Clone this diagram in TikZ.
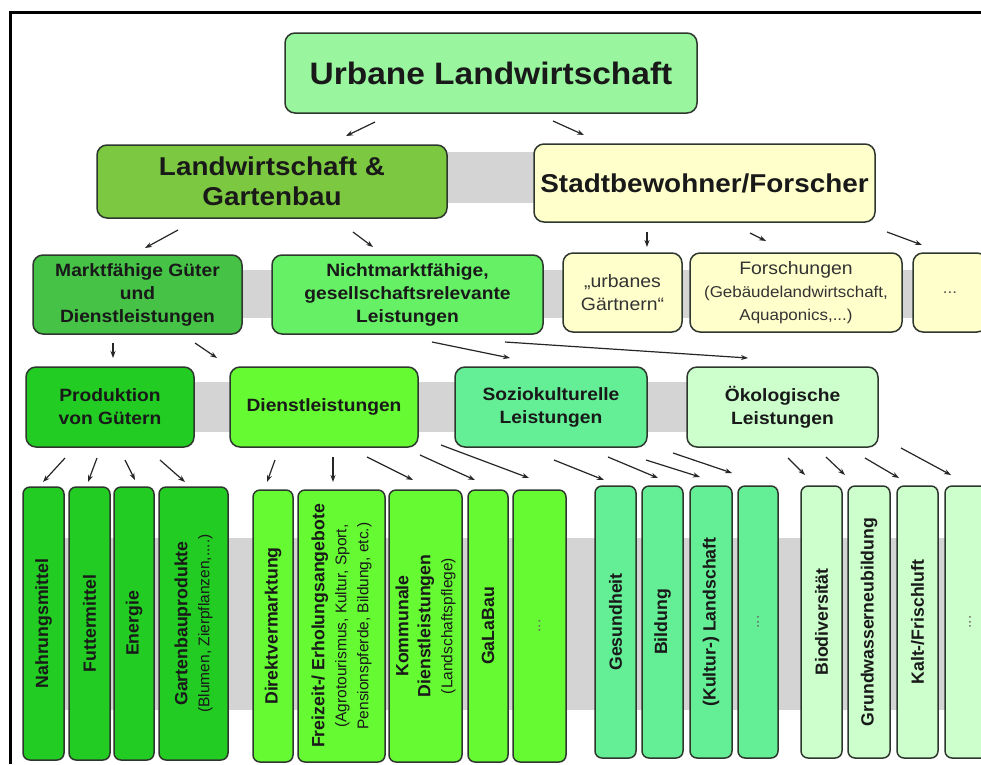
\documentclass[tikz,border=0pt]{standalone}
\usepackage{fontspec}
\setmainfont{Liberation Sans}[FakeStretch=1.08]
\newfontfamily\vfont{Liberation Sans}
\usetikzlibrary{arrows.meta}
\definecolor{cTop}{RGB}{153,245,158}
\definecolor{cLG}{RGB}{125,200,65}
\definecolor{cYel}{RGB}{255,255,204}
\definecolor{cMarkt}{RGB}{70,195,70}
\definecolor{cNicht}{RGB}{102,240,102}
\definecolor{cProd}{RGB}{34,204,34}
\definecolor{cDienst}{RGB}{102,250,51}
\definecolor{cSozio}{RGB}{100,238,150}
\definecolor{cOeko}{RGB}{204,255,204}
\definecolor{cBand}{RGB}{212,212,212}
\definecolor{cBorder}{RGB}{45,55,45}
\newcommand\ftitle{\fontsize{31}{36}\selectfont\bfseries}
\newcommand\fbig{\fontsize{25.8}{30}\selectfont\bfseries}
\newcommand\fmid{\fontsize{17.8}{23}\selectfont\bfseries}
\newcommand\fmidn{\fontsize{18}{23}\selectfont}
\newcommand\fsubh{\fontsize{15.7}{21}\selectfont}
\newcommand\fv{\vfont\fontsize{17.7}{22}\selectfont\bfseries}
\newcommand\fvs{\vfont\fontsize{15.5}{21}\selectfont\mdseries}
\begin{document}
\begin{tikzpicture}[x=1pt,y=-1pt,
  box/.style={draw=cBorder, line width=1.5pt, rounded corners=10pt, inner sep=0pt, outer sep=0pt, align=center, text=black!90},
  vbox/.style={box, rotate=90, rounded corners=7pt},
  arr/.style={-{Stealth[length=7pt,width=5pt]}, line width=1.2pt, draw=black!85},
  band/.style={fill=cBand, draw=none}]
\useasboundingbox (0,0) rectangle (981,764);
\fill[white] (0,0) rectangle (981,764);
% frame
\draw[line width=3pt, black] (10,764) -- (10,12) -- (981,12);
% gray bands
\fill[band] (440,152) rectangle (540,203);
\fill[band] (200,270) rectangle (960,318);
\fill[band] (150,382) rectangle (820,432);
\fill[band] (40,538) rectangle (981,710);
% level 1
\node[box, fill=cTop, minimum width=412pt, minimum height=80pt, font=\ftitle] (top) at (491,73) {Urbane Landwirtschaft};
% level 2
\node[box, fill=cLG, minimum width=350pt, minimum height=73pt, font=\fbig] (lg) at (272,181.5) {Landwirtschaft \&\\Gartenbau};
\node[box, fill=cYel, minimum width=341pt, minimum height=78pt, font=\fbig] (stadt) at (704.5,183) {Stadtbewohner/Forscher};
% level 3
\node[box, fill=cMarkt, minimum width=209pt, minimum height=79pt, font=\fmid] (markt) at (137.5,294.5) {Marktfähige Güter\\und\\Dienstleistungen};
\node[box, fill=cNicht, minimum width=271pt, minimum height=79pt, font=\fmid] (nicht) at (407.5,294.5) {Nichtmarktfähige,\\gesellschaftsrelevante\\Leistungen};
\node[box, fill=cYel, minimum width=119pt, minimum height=79pt, font=\fmidn, text=black!80] (urban) at (622.5,292.5) {„urbanes\\Gärtnern“};
\node[box, fill=cYel, minimum width=212pt, minimum height=79pt, font=\fmidn, text=black!80] (forsch) at (796,292.5) {Forschungen\\{\fsubh(Gebäudelandwirtschaft,}\\{\fsubh Aquaponics,...)}};
\node[box, fill=cYel, minimum width=74pt, minimum height=79pt, font=\fsubh, text=black!70] (dots3) at (950,292.5) {...};
% level 4
\node[box, fill=cProd, minimum width=168pt, minimum height=80pt, font=\fmid] (prod) at (110,407) {Produktion\\von Gütern};
\node[box, fill=cDienst, minimum width=188pt, minimum height=80pt, font=\fmid] (dienst) at (324,407) {Dienstleistungen};
\node[box, fill=cSozio, minimum width=192pt, minimum height=80pt, font=\fmid] (sozio) at (551,407) {Soziokulturelle\\Leistungen};
\node[box, fill=cOeko, minimum width=191pt, minimum height=80pt, font=\fmid] (oeko) at (782.5,407) {Ökologische\\Leistungen};
% level 5 - Produktion
\node[vbox, fill=cProd, minimum width=273pt, minimum height=41pt, font=\fv] (nahr) at (43.5,623.5) {Nahrungsmittel};
\node[vbox, fill=cProd, minimum width=273pt, minimum height=41pt, font=\fv] (futt) at (89.5,623.5) {Futtermittel};
\node[vbox, fill=cProd, minimum width=273pt, minimum height=40pt, font=\fv] (ener) at (134,623.5) {Energie};
\node[vbox, fill=cProd, minimum width=273pt, minimum height=69pt, font=\fv] (gart) at (193.5,623.5) {Gartenbauprodukte\\{\fvs(Blumen, Zierpflanzen,....)}};
% level 5 - Dienstleistungen
\node[vbox, fill=cDienst, minimum width=272pt, minimum height=40pt, font=\fv] (dire) at (273,626) {Direktvermarktung};
\node[vbox, fill=cDienst, minimum width=272pt, minimum height=87pt, font=\fv] (frei) at (341.5,626) {Freizeit-/ Erholungsangebote\\{\fvs(Agrotourismus, Kultur, Sport,}\\{\fvs Pensionspferde, Bildung, etc.)}};
\node[vbox, fill=cDienst, minimum width=272pt, minimum height=73pt, font=\fv] (komm) at (425.5,626) {Kommunale\\Dienstleistungen\\{\fvs(Landschaftspflege)}};
\node[vbox, fill=cDienst, minimum width=272pt, minimum height=40pt, font=\fv] (gala) at (488,626) {GaLaBau};
\node[vbox, fill=cDienst, minimum width=272pt, minimum height=53pt, font=\fvs, text=black!60] (ddots) at (539.5,626) {...};
% level 5 - Sozio
\node[vbox, fill=cSozio, minimum width=272pt, minimum height=41pt, font=\fv] (gesu) at (615.5,622) {Gesundheit};
\node[vbox, fill=cSozio, minimum width=272pt, minimum height=41pt, font=\fv] (bild) at (662.5,622) {Bildung};
\node[vbox, fill=cSozio, minimum width=272pt, minimum height=42pt, font=\fv] (kult) at (711,622) {(Kultur-) Landschaft};
\node[vbox, fill=cSozio, minimum width=272pt, minimum height=40pt, font=\fvs, text=black!60] (sdots) at (758,622) {...};
% level 5 - Oeko
\node[vbox, fill=cOeko, minimum width=272pt, minimum height=41pt, font=\fv] (biod) at (821.5,622) {Biodiversität};
\node[vbox, fill=cOeko, minimum width=272pt, minimum height=42pt, font=\fv] (grun) at (869,622) {Grundwasserneubildung};
\node[vbox, fill=cOeko, minimum width=272pt, minimum height=41pt, font=\fv] (kalt) at (917.5,622) {Kalt-/Frischluft};
\node[vbox, fill=cOeko, minimum width=272pt, minimum height=50pt, font=\fvs, text=black!60] (odots) at (970,622) {...};
% arrows
\foreach \i/\xa/\ya/\xb/\yb in {
  1/375/122/346/136, 2/553/121/584/135,
  3/178/230/145/248, 4/353/232/373/247,
  5/647/232/647/247, 6/750/233/766/241, 7/887/232/922/245,
  8/113/343/113/358, 9/195/343/217/358,
  10/432/342/510/358, 11/505/342/748/358,
  12/65/458/43/482, 13/97/458/88/482, 14/125/460/135/480, 15/160/460/185/482,
  16/275/460/267/482, 17/333/457/333/482, 18/367/457/413/480, 19/420/455/475/480, 20/441/445/529/478,
  21/554/460/604/480, 22/608/457/658/478, 23/646/460/700/477, 24/673/453/732/473,
  25/788/458/805/475, 26/826/457/845/475, 27/865/458/899/478, 28/901/448/951/475}
{
  \coordinate (s\i) at (\xa,\ya);
  \coordinate (e\i) at (\xb,\yb);
  \draw[arr] (s\i) -- (e\i);
}
\end{tikzpicture}
\end{document}
